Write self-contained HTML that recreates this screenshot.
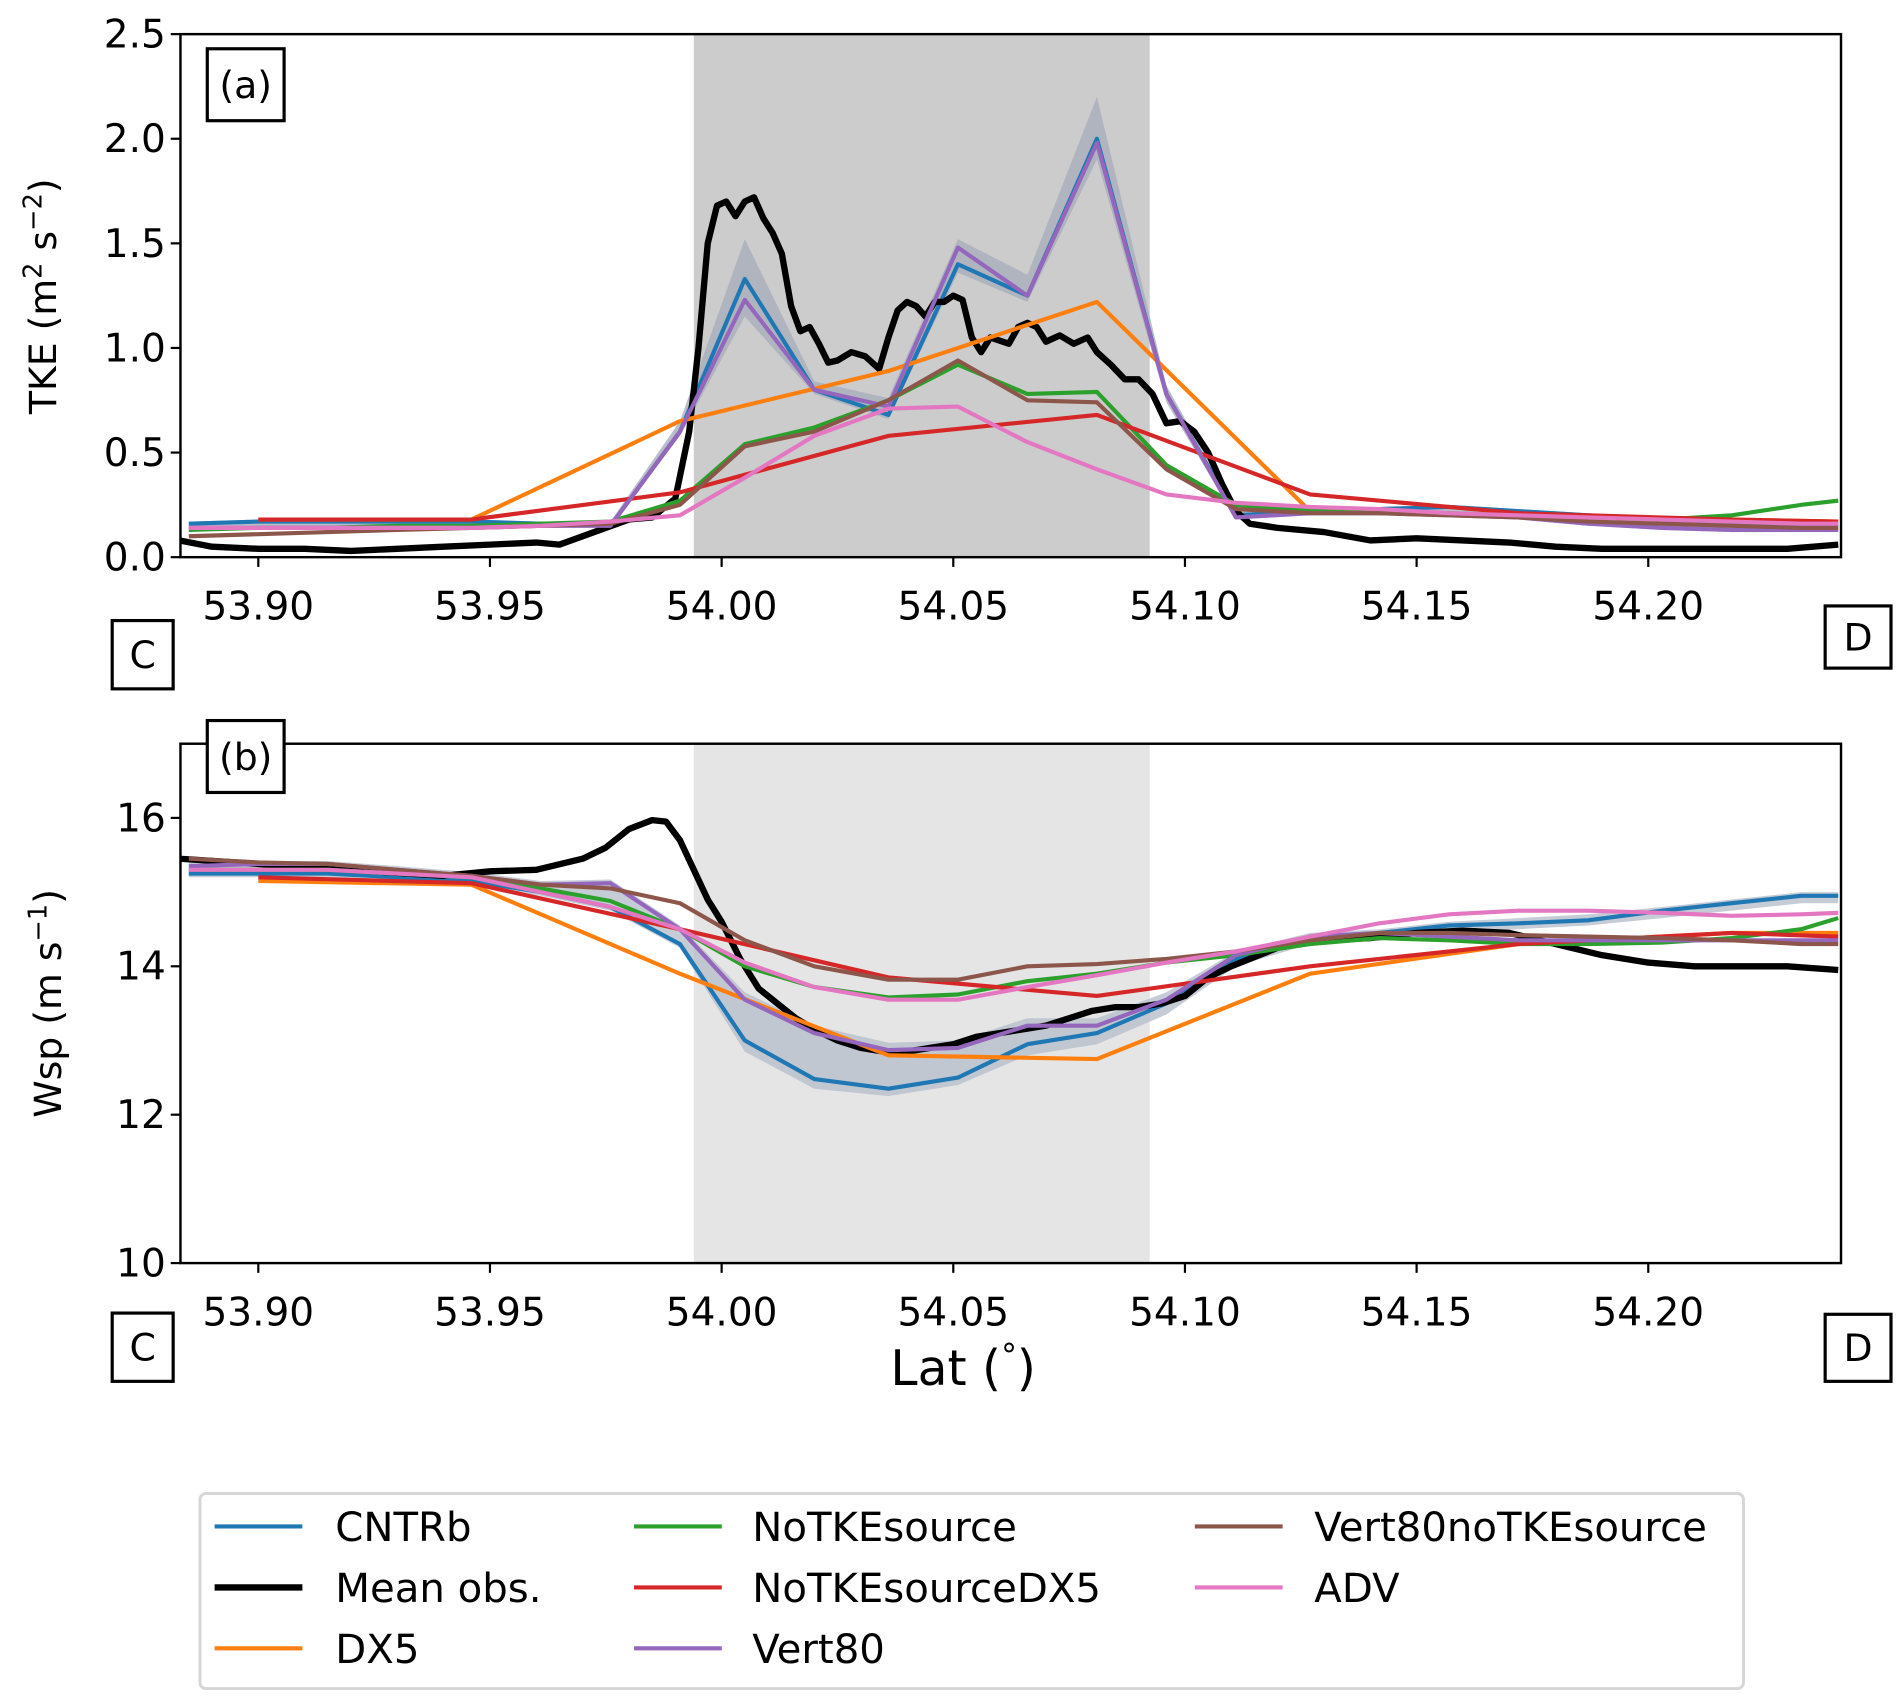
<!DOCTYPE html>
<html><head><meta charset="utf-8"><style>
html,body{margin:0;padding:0;background:#fff;}
svg{display:block;font-family:"DejaVu Sans","Liberation Sans",sans-serif;}
</style></head><body>
<svg id="fig" width="1902" height="1702" viewBox="0 0 1560 1396" xmlns="http://www.w3.org/2000/svg"></svg>
<script>
// ---- data ----
const modelLat = [53.885,53.9,53.915,53.93,53.946,53.961,53.976,53.991,54.005,54.02,54.036,54.051,54.066,54.081,54.096,54.111,54.127,54.142,54.157,54.172,54.187,54.203,54.218,54.233,54.241];
const dxLat = [53.9,53.946,53.991,54.036,54.081,54.127,54.172,54.218,54.241];
const tkeCNTRb = [0.16,0.17,0.17,0.17,0.17,0.16,0.15,0.6,1.33,0.8,0.68,1.40,1.25,2.0,0.78,0.2,0.22,0.23,0.24,0.22,0.2,0.18,0.16,0.15,0.15];
const tkeVert80 = [0.14,0.14,0.14,0.14,0.14,0.15,0.15,0.6,1.23,0.8,0.72,1.48,1.25,1.98,0.78,0.19,0.21,0.21,0.2,0.19,0.16,0.14,0.13,0.13,0.13];
const tkeNoTKE = [0.13,0.14,0.14,0.15,0.15,0.16,0.17,0.27,0.54,0.62,0.75,0.92,0.78,0.79,0.44,0.25,0.22,0.21,0.21,0.2,0.19,0.18,0.2,0.25,0.27];
const tkeVert80noTKE = [0.10,0.11,0.12,0.13,0.14,0.15,0.16,0.25,0.53,0.6,0.75,0.94,0.75,0.74,0.42,0.23,0.21,0.21,0.2,0.19,0.17,0.16,0.15,0.14,0.14];
const tkeADV = [0.14,0.14,0.14,0.14,0.14,0.15,0.17,0.2,0.38,0.58,0.71,0.72,0.55,0.42,0.3,0.26,0.24,0.23,0.21,0.2,0.19,0.18,0.17,0.16,0.16];
const tkeDX5 = [0.18,0.18,0.65,0.89,1.22,0.22,0.2,0.18,0.17];
const tkeNoTKEDX5 = [0.18,0.18,0.31,0.58,0.68,0.30,0.21,0.18,0.17];
const tkeBandLo = [0.14,0.14,0.14,0.14,0.14,0.15,0.14,0.58,1.15,0.78,0.66,1.36,1.22,1.9,0.74,0.18,0.2,0.2,0.2,0.18,0.15,0.13,0.12,0.12,0.12];
const tkeBandHi = [0.17,0.18,0.18,0.18,0.18,0.17,0.17,0.65,1.52,0.84,0.76,1.52,1.35,2.2,0.82,0.23,0.24,0.24,0.25,0.23,0.21,0.19,0.17,0.16,0.16];
const obsLatA = [53.883,53.89,53.90,53.91,53.92,53.93,53.94,53.95,53.96,53.965,53.97,53.975,53.98,53.985,53.99,53.993,53.995,53.997,53.999,54.001,54.003,54.005,54.007,54.009,54.011,54.013,54.015,54.017,54.019,54.021,54.023,54.025,54.028,54.031,54.034,54.036,54.038,54.040,54.042,54.044,54.046,54.048,54.050,54.052,54.054,54.056,54.058,54.062,54.064,54.066,54.068,54.070,54.073,54.076,54.079,54.081,54.084,54.087,54.090,54.093,54.096,54.099,54.102,54.105,54.108,54.111,54.114,54.12,54.13,54.14,54.15,54.16,54.17,54.18,54.19,54.20,54.21,54.22,54.23,54.241];
const obsTKE = [0.08,0.05,0.04,0.04,0.03,0.04,0.05,0.06,0.07,0.06,0.1,0.14,0.18,0.19,0.28,0.6,1.0,1.5,1.68,1.7,1.63,1.7,1.72,1.62,1.55,1.45,1.2,1.08,1.1,1.02,0.93,0.94,0.98,0.96,0.9,1.05,1.18,1.22,1.2,1.15,1.22,1.22,1.25,1.23,1.05,0.98,1.05,1.02,1.1,1.12,1.1,1.03,1.06,1.02,1.05,0.98,0.92,0.85,0.85,0.78,0.64,0.65,0.6,0.5,0.35,0.22,0.16,0.14,0.12,0.08,0.09,0.08,0.07,0.05,0.04,0.04,0.04,0.04,0.04,0.06];
const wspCNTRb = [15.25,15.25,15.25,15.2,15.15,15.0,14.8,14.3,13.0,12.48,12.35,12.5,12.95,13.1,13.5,14.1,14.35,14.45,14.55,14.58,14.62,14.75,14.85,14.95,14.95];
const wspVert80 = [15.35,15.38,15.38,15.3,15.22,15.1,15.12,14.5,13.55,13.1,12.87,12.9,13.2,13.2,13.55,14.15,14.4,14.45,14.4,14.35,14.35,14.35,14.35,14.35,14.35];
const wspNoTKE = [15.3,15.3,15.3,15.25,15.2,15.05,14.88,14.5,14.0,13.72,13.58,13.62,13.8,13.9,14.05,14.15,14.3,14.38,14.35,14.3,14.3,14.32,14.38,14.5,14.65];
const wspVert80noTKE = [15.45,15.4,15.38,15.3,15.22,15.1,15.05,14.85,14.35,14.0,13.82,13.82,14.0,14.03,14.1,14.2,14.35,14.45,14.45,14.42,14.4,14.38,14.35,14.3,14.3];
const wspADV = [15.3,15.3,15.3,15.25,15.2,15.0,14.8,14.5,14.05,13.72,13.55,13.55,13.72,13.88,14.05,14.2,14.4,14.58,14.7,14.75,14.75,14.72,14.68,14.7,14.72];
const wspDX5 = [15.15,15.1,13.9,12.8,12.75,13.9,14.3,14.45,14.45];
const wspNoTKEDX5 = [15.2,15.12,14.5,13.85,13.6,14.0,14.3,14.45,14.4];
const wspBandLo = [15.2,15.2,15.2,15.15,15.1,14.95,14.75,14.25,12.85,12.35,12.25,12.4,12.8,12.95,13.35,14.0,14.3,14.4,14.45,14.5,14.55,14.65,14.75,14.85,14.85];
const wspBandHi = [15.4,15.42,15.42,15.35,15.27,15.15,15.17,14.55,13.65,13.2,12.97,13.0,13.3,13.3,13.65,14.2,14.45,14.5,14.6,14.65,14.7,14.8,14.9,15.0,15.0];
const obsLatB = [53.883,53.9,53.92,53.94,53.95,53.96,53.97,53.975,53.98,53.985,53.988,53.991,53.994,53.997,54.0,54.004,54.008,54.012,54.016,54.02,54.025,54.03,54.035,54.04,54.045,54.05,54.055,54.06,54.065,54.07,54.075,54.08,54.085,54.09,54.095,54.1,54.105,54.11,54.12,54.13,54.14,54.15,54.16,54.17,54.18,54.19,54.2,54.21,54.22,54.23,54.241];
const obsWsp = [15.45,15.38,15.3,15.22,15.28,15.3,15.45,15.6,15.85,15.97,15.95,15.7,15.3,14.9,14.6,14.1,13.7,13.5,13.3,13.15,13.0,12.9,12.85,12.85,12.9,12.95,13.05,13.1,13.15,13.2,13.3,13.4,13.45,13.45,13.5,13.6,13.85,14.0,14.25,14.35,14.38,14.45,14.48,14.45,14.3,14.15,14.05,14.0,14.0,14.0,13.95];
const xTicks = [53.90,53.95,54.00,54.05,54.10,54.15,54.20];
const tkeTicks = [0.0,0.5,1.0,1.5,2.0,2.5];
const wspTicks = [10,12,14,16];
const shadeRange = [53.994,54.0924];

// ---- layout ----
const NS="http://www.w3.org/2000/svg";
const svg=document.getElementById('fig');
const L=148,R=1510,XMIN=53.8832,XMAX=54.2416;
const sx=v=>L+(v-XMIN)/(XMAX-XMIN)*(R-L);
function el(tag,attrs,parent){const e=document.createElementNS(NS,tag);for(const k in attrs)e.setAttribute(k,attrs[k]);(parent||svg).appendChild(e);return e;}
const C={blue:'#1f77b4',orange:'#ff7f0e',green:'#2ca02c',red:'#d62728',purple:'#9467bd',brown:'#8c564b',pink:'#e377c2'};
const MW=3.4, OW=5.2;

function panel(name,top,bot,ymin,ymax,shadeCol,yTicks,fmt){
  const g=el('g',{});
  
  
  const sy=v=>bot-(v-ymin)/(ymax-ymin)*(bot-top);
  const clipId=name+'-clip';
  const cp=el('clipPath',{id:clipId},g);el('rect',{x:L,y:top,width:R-L,height:bot-top},cp);
  const sh=el('rect',{x:sx(shadeRange[0]),y:top,width:sx(shadeRange[1])-sx(shadeRange[0]),height:bot-top,fill:shadeCol},g);
  
  
  const plot=el('g',{'clip-path':'url(#'+clipId+')'},g);
  const fr=el('rect',{x:L,y:top,width:R-L,height:bot-top,fill:'none',stroke:'#000','stroke-width':2},g);
  
  
  xTicks.forEach(t=>{
    el('line',{x1:sx(t),x2:sx(t),y1:bot,y2:bot+8,stroke:'#000','stroke-width':1.8},g);
    const tx=el('text',{x:sx(t),y:bot+51,'font-size':32,'text-anchor':'middle'},g);tx.textContent=t.toFixed(2);
    
    
  });
  yTicks.forEach(t=>{
    el('line',{x1:L-8,x2:L,y1:sy(t),y2:sy(t),stroke:'#000','stroke-width':1.8},g);
    const tx=el('text',{x:L-12,y:sy(t)+11,'font-size':32,'text-anchor':'end'},g);tx.textContent=fmt(t);
    
    
  });
  return {g,plot,sy};
}
function band(p,lat,lo,hi,col,name){
  let d='M'+lat.map((x,i)=>sx(x)+','+p.sy(hi[i])).join('L');
  for(let i=lat.length-1;i>=0;i--) d+='L'+sx(lat[i])+','+p.sy(lo[i]);
  const e=el('path',{d:d+'Z',fill:col,opacity:0.8},p.plot);
  
  
}
function line(p,lat,vals,col,w,name){
  const d='M'+lat.map((x,i)=>sx(x)+','+p.sy(vals[i])).join('L');
  const e=el('path',{d,fill:'none',stroke:col,'stroke-width':w,'stroke-linejoin':'round'},p.plot);
  
  
}
function boxLabel(x,y,w,h,t,name){
  const g=el('g',{});
  
  
  el('rect',{x,y,width:w,height:h,fill:'#fff',stroke:'#000','stroke-width':2.6},g);
  const tx=el('text',{x:x+w/2,y:y+h/2+11,'font-size':31,'text-anchor':'middle'},g);tx.textContent=t;
}

const pa=panel('panel-tke',28,457,0,2.5,'#cccccc',tkeTicks,t=>t.toFixed(1));
band(pa,modelLat,tkeBandLo,tkeBandHi,'#a8aebb','tke-spread-band');
line(pa,modelLat,tkeCNTRb,C.blue,MW,'tke-cntrb-line');
line(pa,obsLatA,obsTKE,'#000',OW,'tke-obs-line');
line(pa,dxLat,tkeDX5,C.orange,MW,'tke-dx5-line');
line(pa,modelLat,tkeNoTKE,C.green,MW,'tke-notkesource-line');
line(pa,dxLat,tkeNoTKEDX5,C.red,MW,'tke-notkesourcedx5-line');
line(pa,modelLat,tkeVert80,C.purple,MW,'tke-vert80-line');
line(pa,modelLat,tkeVert80noTKE,C.brown,MW,'tke-vert80notkesource-line');
line(pa,modelLat,tkeADV,C.pink,MW,'tke-adv-line');
const pb=panel('panel-wsp',610,1036,10,17,'#e5e5e5',wspTicks,t=>String(t));
band(pb,modelLat,wspBandLo,wspBandHi,'#b8bfcc','wsp-spread-band');
line(pb,modelLat,wspCNTRb,C.blue,MW,'wsp-cntrb-line');
line(pb,obsLatB,obsWsp,'#000',OW,'wsp-obs-line');
line(pb,dxLat,wspDX5,C.orange,MW,'wsp-dx5-line');
line(pb,modelLat,wspNoTKE,C.green,MW,'wsp-notkesource-line');
line(pb,dxLat,wspNoTKEDX5,C.red,MW,'wsp-notkesourcedx5-line');
line(pb,modelLat,wspVert80,C.purple,MW,'wsp-vert80-line');
line(pb,modelLat,wspVert80noTKE,C.brown,MW,'wsp-vert80notkesource-line');
line(pb,modelLat,wspADV,C.pink,MW,'wsp-adv-line');

boxLabel(170,40,63,59,'(a)','panel-a-label');
boxLabel(92,509,50,56,'C','point-c-label-a');
boxLabel(1497,497,54,51,'D','point-d-label-a');
boxLabel(170,591,63,59,'(b)','panel-b-label');
boxLabel(92,1077,50,56,'C','point-c-label-b');
boxLabel(1497,1078,54,55,'D','point-d-label-b');

function t(x,y,size,txt,name,rot){const e=document.createElementNS(NS,'text');e.setAttribute('x',x);e.setAttribute('y',y);e.setAttribute('font-size',size);e.setAttribute('text-anchor','middle');if(rot)e.setAttribute('transform','rotate(-90 '+x+' '+y+')');e.innerHTML=txt;


svg.appendChild(e);return e;}
t(46,243,31,'TKE (m<tspan font-size="21" dy="-12">2</tspan><tspan dy="12"> s</tspan><tspan font-size="21" dy="-12">−2</tspan><tspan dy="12">)</tspan>','y-axis-title-tke',true);
t(50,823,31,'Wsp (m s<tspan font-size="21" dy="-12">−1</tspan><tspan dy="12">)</tspan>','y-axis-title-wsp',true);
t(790,1136,40,'Lat (<tspan font-size="26" dy="-15">°</tspan><tspan dy="15">)</tspan>','x-axis-title');
const lg=document.createElementNS(NS,'g');


svg.appendChild(lg);
const r=document.createElementNS(NS,'rect');
r.setAttribute('x',164);r.setAttribute('y',1225);r.setAttribute('width',1266);r.setAttribute('height',160);r.setAttribute('rx',5);r.setAttribute('fill','#fff');r.setAttribute('stroke','#d6d6d6');r.setAttribute('stroke-width',2.4);
lg.appendChild(r);
const names=['CNTRb','Mean obs.','DX5','NoTKEsource','NoTKEsourceDX5','Vert80','Vert80noTKEsource','ADV'];
const cols=['#1f77b4','#000','#ff7f0e','#2ca02c','#d62728','#9467bd','#8c564b','#e377c2'];
const lx=[176,520,980],tx=[275,617,1078],ry=[1252,1302,1352];
names.forEach((n,i)=>{
  const c=Math.floor(i/3),row=i%3;
  const g=document.createElementNS(NS,'g');
  
  
  lg.appendChild(g);
  const l=document.createElementNS(NS,'line');
  l.setAttribute('x1',lx[c]);l.setAttribute('x2',lx[c]+72);l.setAttribute('y1',ry[row]);l.setAttribute('y2',ry[row]);
  l.setAttribute('stroke',cols[i]);l.setAttribute('stroke-width',n==='Mean obs.'?OW:MW);g.appendChild(l);
  const s=document.createElementNS(NS,'text');s.setAttribute('x',tx[c]);s.setAttribute('y',ry[row]+12);s.setAttribute('font-size',33);s.textContent=n;g.appendChild(s);
});
</script>
</body></html>
